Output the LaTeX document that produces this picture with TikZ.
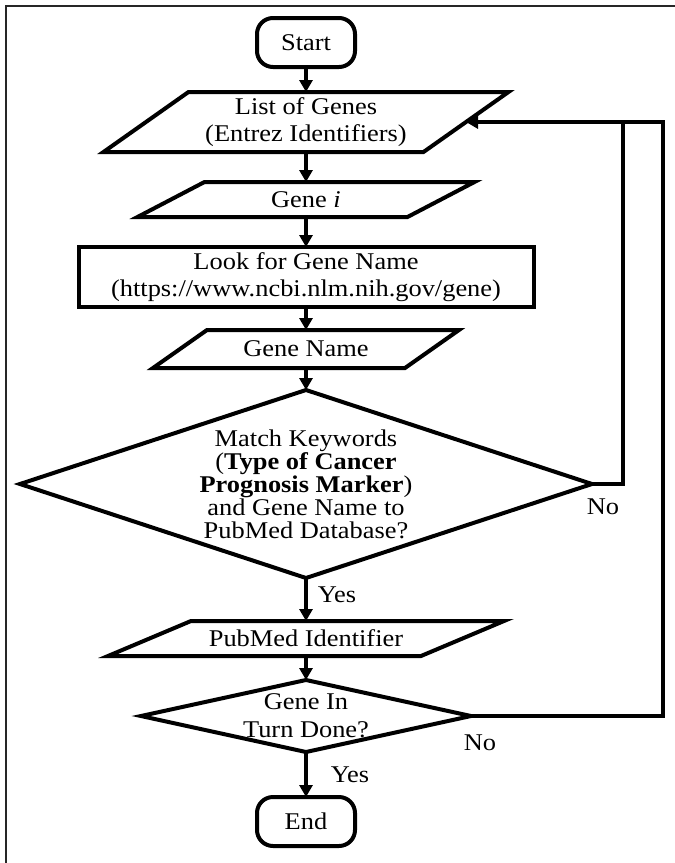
\documentclass[tikz,border=0pt]{standalone}
\usepackage{fontspec}
\setmainfont{Liberation Serif}[FakeStretch=1.1]
\usetikzlibrary{arrows.meta,calc}
\newcommand\drawpara[2]{\draw[outline] (#1.south west) -- ($(#1.south east)+(-#2,0)$) -- (#1.north east) -- ($(#1.north west)+(#2,0)$) -- cycle;}
\newcommand\drawdiam[1]{\draw[outline] (#1.north) -- (#1.east) -- (#1.south) -- (#1.west) -- cycle;}
\begin{document}
\begin{tikzpicture}[x=1pt,y=-1pt,
  outline/.style={line width=4pt, line join=miter},
  box/.style={inner sep=0pt, outer sep=0pt, align=center, font=\fontsize{24}{27}\selectfont},
  term/.style={box, draw, outline, rounded corners=16pt, minimum width=98pt, minimum height=49pt},
  flow/.style={line width=4pt, line join=miter, -{Triangle[length=12pt,width=13pt]}},
  fb/.style={line width=4pt, line join=miter},
  lbl/.style={inner sep=0pt, font=\fontsize{24}{27}\selectfont},
  frame/.style={line width=2pt, draw=black!85}]
\useasboundingbox (0,0) rectangle (675,863);
\draw[frame] (675,6) -- (6,6) -- (6,863);

\node[term] (start) at (306,42.5) {Start};
\node[box, minimum width=405pt, minimum height=60pt] (list) at (306,122) {List of Genes\\(Entrez Identifiers)};
\node[box, minimum width=337pt, minimum height=35pt] (genei) at (306,199.5) {Gene \textit{i}};
\node[box, draw, outline, minimum width=455pt, minimum height=60pt] (look) at (306,277) {Look for Gene Name\\(https://www.ncbi.nlm.nih.gov/gene)};
\node[box, minimum width=306pt, minimum height=38pt] (gname) at (306,349) {Gene Name};
\node[box, font=\fontsize{24}{23}\selectfont, minimum width=572pt, minimum height=188pt] (d1) at (306,484) {Match Keywords\\(\textbf{Type of Cancer}\\\textbf{Prognosis Marker})\\and Gene Name to\\PubMed Database?};
\node[box, minimum width=396pt, minimum height=35pt] (pubmed) at (306,638.5) {PubMed Identifier};
\node[box, font=\fontsize{24}{28}\selectfont, minimum width=330pt, minimum height=72pt] (d2) at (306,716) {Gene In\\Turn Done?};
\node[term] (end) at (306,821.5) {End};

\drawpara{list}{85}
\drawpara{genei}{67}
\drawpara{gname}{54}
\drawpara{pubmed}{83}
\drawdiam{d1}
\drawdiam{d2}

\draw[flow] (start) -- (list);
\draw[flow] (list) -- (genei);
\draw[flow] (genei) -- (look);
\draw[flow] (look) -- (gname);
\draw[flow] (gname) -- (d1);
\draw[flow] (d1) -- (pubmed);
\draw[flow] (pubmed) -- (d2);
\draw[flow] (d2) -- (end);

\coordinate (c1) at (623,122);
\coordinate (c2) at (663,122);
\coordinate (listin) at ($(list.east)+(-42.5,0)$);
\draw[flow] (d1.east) -| (c1) -- (listin);
\draw[fb] (d2.east) -| (c2) -- (c1);

\node[lbl] (no1) at (603,507) {No};
\node[lbl] (yes1) at (337,595) {Yes};
\node[lbl] (no2) at (480,743) {No};
\node[lbl] (yes2) at (350,775) {Yes};
\end{tikzpicture}
\end{document}
